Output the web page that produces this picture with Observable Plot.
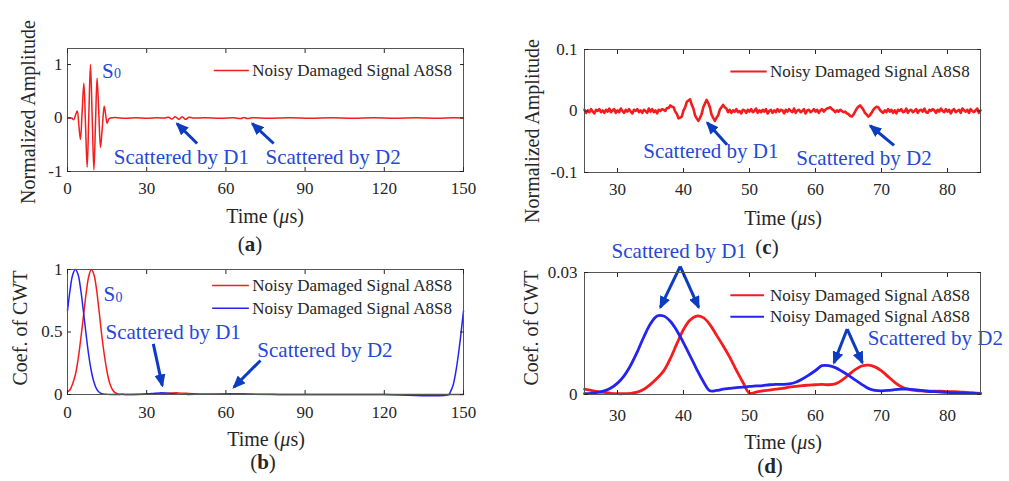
<!DOCTYPE html>
<html><head><meta charset="utf-8">
<script src="https://cdn.jsdelivr.net/npm/d3@7"></script>
<script src="https://cdn.jsdelivr.net/npm/@observablehq/plot@0.6"></script>
<style>
body{margin:0;background:#fff;}
#fig{position:relative;width:1009px;height:481px;overflow:hidden;background:#fff;font-family:"Liberation Serif","Times New Roman",serif;}
.panel{position:absolute;}
.lbl{position:absolute;color:#262626;white-space:nowrap;line-height:1;transform:translate(-50%,-50%);}
.lbl i,.lbl b{display:inline-block;line-height:1;}
.rot{transform:translate(-50%,-50%) rotate(-90deg);}
</style></head><body><div id="fig"></div>
<script>
const FONT = "Liberation Serif";
const RED = "#f41c1c", BLUE = "#2323f2", NOTE = "#2448d8", ARROW = "#0c3cc0", INK = "#262626", FRAME = "#555555";
const legendName = "Noisy Damaged Signal A8S8";

// ---------- Panel (a): full noisy damaged signal ----------
const aTime = [0,1.5,2.4,3.0,3.7,4.3,4.9,5.55,6.2,6.83,7.45,8.07,8.7,9.35,10.0,10.6,11.2,11.85,12.5,13.2,13.9,14.45,15.0,15.6,16.3,18,22,26,30,34,37,38.3,39.5,40.8,42.2,43.4,44.7,46,47.5,52,58,63,65.6,66.8,68.1,70,76,84,92,100,108,116,124,132,140,146,150];
const aAmp  = [0,0,-0.03,0.05,0.13,-0.135,-0.4,0.125,0.65,-0.135,-0.92,0.04,1.0,0.015,-0.97,-0.11,0.75,0.1,-0.55,-0.165,0.22,0.06,-0.1,-0.02,0,0.008,-0.006,0.007,-0.005,0.006,0,0.015,-0.02,0.025,-0.025,0.025,-0.025,0.015,0,0.006,-0.005,0.004,-0.01,0.01,-0.01,0.004,-0.005,0.006,-0.004,0.005,-0.006,0.004,-0.005,0.006,-0.004,0.005,0];
const abTicksX = [0,30,60,90,120,150];
const abTickLabelsX = ["0","30","60","90","120","150"];
const aTicksY = [-1,0,1];
const aTickLabelsY = ["-1","0","1"];

// ---------- Panel (b): CWT coefficients, full range ----------
const bRedTime = [0,1,2,3,4,5,6,7,8,9,10,11,12,13,14,15,16,17,18,19,20,25,30,35,38,42,46,50,55,60,65,68,72,80,100,120,145,150];
const bRedCoef = [0.02,0.04,0.09,0.16,0.28,0.44,0.62,0.80,0.94,1.0,0.96,0.84,0.66,0.47,0.31,0.18,0.09,0.04,0.015,0.005,0.002,0.001,0.002,0.006,0.011,0.013,0.008,0.002,0.002,0.003,0.005,0.005,0.002,0.001,0.0005,0.0005,0.0005,0];
const bBlueTime = [0,1,2,3,4,5,6,7,8,9,10,11,12,13,14,15,20,28,32,35,38,42,45,50,55,59,62,66,70,80,100,120,144.5,145,146,147,148,149,150];
const bBlueCoef = [0.67,0.84,0.96,1.0,0.96,0.84,0.67,0.49,0.32,0.19,0.10,0.045,0.018,0.006,0.002,0.001,0.001,0.002,0.008,0.013,0.011,0.003,0.001,0.002,0.003,0.004,0.005,0.003,0.001,0.001,0.0005,0.0005,0,0.02,0.07,0.17,0.31,0.48,0.67];
const bTicksY = [0,0.5,1];
const bTickLabelsY = ["0","0.5","1"];

// ---------- Panel (c): zoomed noisy signal (amplitude in units of 0.001), t = 25..85 step 0.25 ----------
const cStart = 25, cStep = 0.25;
const cAmp = [
 2,-3,1,-2, 3,-1,-4,2, 0,3,-2,1, -3,2,-1,4, -2,1,3,-3, 1,-2,4,0, -3,2,-1,3, -1,-4,2,0, 3,-2,1,-3, 2,0,-3,4,
 -1,3,-2,1, -4,2,0,3, 2,0,5,5, 9,7,6,-1, -5,-12,-11,-9, 1,6,15,17, 19,10,4,-7, -12,-16,-11,-5, 6,12,18,13, 6,-6,-11,-16,
 -11,-7,2,6, 10,6,4,-2, 2,-3,1,-1, 3,-2,0,-4, 2,1,-3,2, -1,3,-2,0, 4,-3,1,-2, 2,-1,3,-4, 0,2,-3,1, -2,3,-1,2,
 1,-4,2,-1, 3,0,-2,4, -3,1,2,-2, 0,3,-4,1, 2,-2,0,3, -1,2,-3,1, 3,-1,2,4, 5,6,3,1, -2,1,-1,2, 0,-2,-1,-4,
 -5,-8,-9,-6, -1,4,7,9, 6,2,-3,-6, -9,-7,-3,2, 5,7,6,2, -1,-3,1,-2, 3,-1,2,-3, 1,-4,2,0, 3,-2,-1,4, -3,1,2,-2,
 0,3,-3,1, 2,-1,4,-2, -3,2,0,3, 1,-3,2,-1, 4,0,-2,3, -1,2,-4,1, 3,-2,0,2, -3,4,1,-1, 2,-3,3,0, -2,1,4,-3, 1];
const cdTicksX = [30,40,50,60,70,80];
const cdTickLabelsX = ["30","40","50","60","70","80"];
const cTicksY = [-100,0,100];
const cTickLabelsY = ["-0.1","0","0.1"];

// ---------- Panel (d): CWT coefficients, zoomed, t = 25..85 step 1 ----------
const dTime = d3.range(25, 86);
const dRedCoef = [0.0013,0.0010,0.0007,0.0005,0.0003,0.0002,0.0002,0.0003,0.0006,0.0013,0.0025,0.0040,0.0058,0.0088,0.0125,0.0160,0.0183,0.0193,0.0189,0.0172,0.0146,0.0120,0.0092,0.0060,0.0030,0.0003,0.0006,0.0009,0.0011,0.0013,0.0015,0.0018,0.0020,0.0022,0.0023,0.0024,0.0025,0.0024,0.0026,0.0035,0.0048,0.0061,0.0070,0.0072,0.0068,0.0058,0.0044,0.0030,0.0019,0.0013,0.0010,0.0009,0.0008,0.0008,0.0008,0.0007,0.0007,0.0006,0.0005,0.0004,0.0003];
const dBlueCoef = [0.0002,0.0003,0.0005,0.0009,0.0016,0.0028,0.0046,0.0072,0.0105,0.0142,0.0174,0.0193,0.0193,0.0180,0.0157,0.0127,0.0095,0.0062,0.0032,0.0009,0.0010,0.0013,0.0015,0.0017,0.0018,0.0020,0.0021,0.0022,0.0024,0.0025,0.0025,0.0026,0.0030,0.0038,0.0048,0.0059,0.0071,0.0071,0.0066,0.0057,0.0047,0.0036,0.0025,0.0015,0.0010,0.0009,0.0010,0.0012,0.0013,0.0013,0.0012,0.0010,0.0008,0.0007,0.0006,0.0005,0.0004,0.0004,0.0003,0.0003,0.0002];
const dTicksY = [0,0.03];
const dTickLabelsY = ["0","0.03"];

// ---------- annotations (data coordinates) ----------
const aNotes = [{x:17.5,y:-0.73,text:"Scattered by D1"},{x:75.0,y:-0.73,text:"Scattered by D2"}];
const aArrows = [{x1:49.1,y1:-0.476,x2:41.5,y2:-0.105},{x1:78.1,y1:-0.476,x2:70.0,y2:-0.105}];
const aMode = [{x:13.1,y:0.88}];
const aLegend = [{x1:55.4,x2:68.7,tx:70.0,y:0.889,color:RED}];

const bNotes = [{x:14.4,y:0.496,text:"Scattered by D1"},{x:71.9,y:0.352,text:"Scattered by D2"}];
const bArrows = [{x1:32.5,y1:0.405,x2:35.9,y2:0.072},{x1:73.1,y1:0.272,x2:63.0,y2:0.058}];
const bMode = [{x:13.6,y:0.8}];
const bLegend = [{x1:54.8,x2:68.7,tx:70.0,y:0.872,color:RED},{x1:54.8,x2:68.7,tx:70.0,y:0.69,color:BLUE}];

const cNotes = [{x:33.9,y:-66,text:"Scattered by D1"},{x:57.1,y:-77,text:"Scattered by D2"}];
const cArrows = [{x1:46.6,y1:-55,x2:43.6,y2:-19},{x1:71.9,y1:-56,x2:68.3,y2:-24}];
const cLegend = [{x1:47.1,x2:52.6,tx:53.1,y:64.4,color:RED}];

const dNotes = [{x:29.1,y:0.0351,text:"Scattered by D1"},{x:67.9,y:0.0139,text:"Scattered by D2"}];
const dArrows = [{x1:39.5,y1:0.0315,x2:36.5,y2:0.0214},{x1:39.5,y1:0.0315,x2:42.3,y2:0.0214},{x1:64.8,y1:0.0161,x2:62.8,y2:0.0078},{x1:64.8,y1:0.0161,x2:67.1,y2:0.0078}];
const dLegend = [{x1:47.1,x2:52.2,tx:53.1,y:0.0244,color:RED},{x1:47.1,x2:52.2,tx:53.1,y:0.0191,color:BLUE}];

// ---------- helpers ----------
const fmt = (ticks, labels) => d => labels[ticks.indexOf(d)] ?? "";
const rows = (xs, ys) => xs.map((t, i) => ({t, v: ys[i]}));

function legendMarks(leg, lw) {
  return [
    Plot.link(leg, {x1:"x1", x2:"x2", y1:"y", y2:"y", stroke:"color", strokeWidth: lw}),
    Plot.text(leg, {x:"tx", y:"y", text: () => legendName, textAnchor:"start", fontSize:17, fill: INK})
  ];
}
function noteMarks(notes, arrows, modes) {
  const m = [
    Plot.text(notes, {x:"x", y:"y", text:"text", textAnchor:"start", fontSize:21, fill: NOTE}),
    Plot.link(arrows, {x1:"x1", y1:"y1", x2:"x2", y2:"y2", stroke: ARROW, strokeWidth: 3})
  ];
  if (modes) {
    m.push(Plot.text(modes, {x:"x", y:"y", text: () => "S", textAnchor:"start", fontSize:21, fill: NOTE}));
    m.push(Plot.text(modes, {x:"x", y:"y", text: () => "0", textAnchor:"start", fontSize:14, dx:12, dy:3, fill: NOTE}));
  }
  return m;
}
let markerCount = 0;
function addHeads(svg) {
  const ns = "http://www.w3.org/2000/svg";
  const id = "arrowhead" + (markerCount++);
  const defs = document.createElementNS(ns, "defs");
  const mk = document.createElementNS(ns, "marker");
  mk.setAttribute("id", id);
  mk.setAttribute("viewBox", "0 0 13 11");
  mk.setAttribute("refX", "11"); mk.setAttribute("refY", "5.5");
  mk.setAttribute("markerWidth", "13"); mk.setAttribute("markerHeight", "11");
  mk.setAttribute("markerUnits", "userSpaceOnUse"); mk.setAttribute("orient", "auto");
  const p = document.createElementNS(ns, "path");
  p.setAttribute("d", "M0,0L13,5.5L0,11Z"); p.setAttribute("fill", ARROW);
  mk.appendChild(p); defs.appendChild(mk); svg.insertBefore(defs, svg.firstChild);
  svg.querySelectorAll(`g[stroke="${ARROW}"] path`).forEach(el => el.setAttribute("marker-end", `url(#${id})`));
}

function panel(cfg) {
  const svg = Plot.plot({
    width: cfg.w, height: cfg.h,
    marginLeft: cfg.ml, marginRight: cfg.mr, marginTop: cfg.mt, marginBottom: cfg.mb,
    x: {domain: cfg.xDomain, label: null},
    y: {domain: cfg.yDomain, label: null},
    style: {fontFamily: FONT, fontSize: "17px", color: INK, background: "transparent", overflow: "visible"},
    marks: [
      ...cfg.marks,
      Plot.frame({stroke: FRAME, strokeWidth: 1}),
      Plot.axisX({ticks: cfg.xTicks, tickSize: -4, tickPadding: cfg.xPad, tickFormat: fmt(cfg.xTicks, cfg.xLabels), label: null}),
      Plot.axisX({anchor: "top", ticks: cfg.xTicks, tickSize: -4, tickFormat: () => "", label: null}),
      Plot.axisY({ticks: cfg.yTicks, tickSize: -4, tickPadding: cfg.yPad, tickFormat: fmt(cfg.yTicks, cfg.yLabels), label: null}),
      Plot.axisY({anchor: "right", ticks: cfg.yTicks, tickSize: -4, tickFormat: () => "", label: null})
    ]
  });
  addHeads(svg);
  const div = document.createElement("div");
  div.className = "panel";
  div.style.left = cfg.left + "px"; div.style.top = cfg.top + "px";
  div.appendChild(svg);
  document.getElementById("fig").appendChild(div);
}

// (a)
panel({left:0, top:0, w:490, h:200, ml:67, mr:27, mt:48, mb:29,
  xDomain:[0,150], yDomain:[-1,1.3], xTicks: abTicksX, xLabels: abTickLabelsX, yTicks: aTicksY, yLabels: aTickLabelsY,
  xPad: 14.5, yPad: 9,
  marks: [
    Plot.line(rows(aTime, aAmp), {x:"t", y:"v", stroke: RED, strokeWidth: 1.5, curve: "catmull-rom"}),
    ...legendMarks(aLegend, 1.5),
    ...noteMarks(aNotes, aArrows, aMode)
  ]});

// (b)
panel({left:0, top:240, w:490, h:185, ml:67, mr:27, mt:29, mb:31,
  xDomain:[0,150], yDomain:[0,1], xTicks: abTicksX, xLabels: abTickLabelsX, yTicks: bTicksY, yLabels: bTickLabelsY,
  xPad: 15.5, yPad: 9,
  marks: [
    Plot.line(rows(bRedTime, bRedCoef), {x:"t", y:"v", stroke: RED, strokeWidth: 1.5, curve: "catmull-rom"}),
    Plot.line(rows(bBlueTime, bBlueCoef), {x:"t", y:"v", stroke: BLUE, strokeWidth: 1.5, curve: "catmull-rom"}),
    ...legendMarks(bLegend, 1.5),
    ...noteMarks(bNotes, bArrows, bMode)
  ]});

// (c)
panel({left:500, top:0, w:509, h:200, ml:84, mr:29, mt:49, mb:28,
  xDomain:[25,85], yDomain:[-100,100], xTicks: cdTicksX, xLabels: cdTickLabelsX, yTicks: cTicksY, yLabels: cTickLabelsY,
  xPad: 14.5, yPad: 11,
  marks: [
    Plot.line(cAmp.map((v, i) => ({t: cStart + i * cStep, v})), {x:"t", y:"v", stroke: RED, strokeWidth: 2.6}),
    ...legendMarks(cLegend, 2),
    ...noteMarks(cNotes, cArrows)
  ]});

// (d)
panel({left:500, top:240, w:509, h:185, ml:84, mr:29, mt:32, mb:31,
  xDomain:[25,85], yDomain:[0,0.03], xTicks: cdTicksX, xLabels: cdTickLabelsX, yTicks: dTicksY, yLabels: dTickLabelsY,
  xPad: 18, yPad: 11,
  marks: [
    Plot.line(rows(dTime, dRedCoef), {x:"t", y:"v", stroke: RED, strokeWidth: 2.8, curve: "catmull-rom"}),
    Plot.line(rows(dTime, dBlueCoef), {x:"t", y:"v", stroke: BLUE, strokeWidth: 2.8, curve: "catmull-rom"}),
    ...legendMarks(dLegend, 2),
    ...noteMarks(dNotes, dArrows)
  ]});

// axis titles and panel labels
const labels = [
  {html:"Normalized Amplitude", x:28, y:112, rot:true, size:20},
  {html:"Time (<i>μ</i>s)", x:265, y:216, size:20},
  {html:"(<b>a</b>)", x:250, y:244, size:21},
  {html:"Coef. of CWT", x:20, y:328, rot:true, size:20},
  {html:"Time (<i>μ</i>s)", x:266, y:439, size:20},
  {html:"(<b>b</b>)", x:263, y:462, size:21},
  {html:"Normalized Amplitude", x:532, y:131, rot:true, size:20},
  {html:"Time (<i>μ</i>s)", x:783, y:218, size:20},
  {html:"(<b>c</b>)", x:767, y:247, size:21},
  {html:"Coef. of CWT", x:531, y:328, rot:true, size:20},
  {html:"Time (<i>μ</i>s)", x:783, y:442, size:20},
  {html:"(<b>d</b>)", x:770, y:466, size:21}
];
for (const l of labels) {
  const el = document.createElement("div");
  el.className = "lbl" + (l.rot ? " rot" : "");
  el.style.left = l.x + "px"; el.style.top = l.y + "px"; el.style.fontSize = l.size + "px";
  el.innerHTML = l.html;
  document.getElementById("fig").appendChild(el);
}
</script></body></html>
